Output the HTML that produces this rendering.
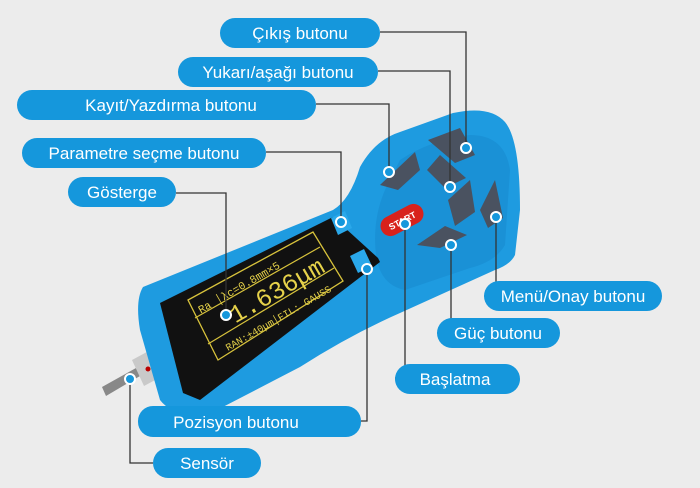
<!DOCTYPE html>
<html><head><meta charset="utf-8"><style>
html,body{margin:0;padding:0;background:#ececec;}
svg{display:block}
.l{font-family:"Liberation Sans",sans-serif;font-size:17px;fill:#fff;text-anchor:middle}
.p{fill:#1597dc}
.c{stroke:#333;stroke-width:1.3;fill:none}
.d{fill:#1597dc;stroke:#fff;stroke-width:2}
.s{font-family:"Liberation Mono",monospace;fill:#e6d24a}
.b{fill:#4a5260}
</style></head><body>
<svg width="700" height="488" viewBox="0 0 700 488" xmlns="http://www.w3.org/2000/svg">
<rect width="700" height="488" fill="#ececec"/>
<!-- sensor -->
<polygon points="102,387 136,368 140,376 106,396" fill="#888"/>
<polygon points="132,360 158,346 170,372 144,386" fill="#c9c9c9"/>
<circle cx="148" cy="369" r="2.5" fill="#b00"/>
<!-- body -->
<path d="M143,287 L333,210 Q350,200 360,167 Q375,140 400,132 L453,113 Q490,105 505,122 Q520,140 520,210 L515,255 Q510,265 495,270 L400,313 Q350,335 300,367 L217,410 Q175,420 160,400 L140,330 Q135,300 143,287 Z" fill="#1e9be0"/>
<path d="M400,160 Q430,140 470,135 Q505,135 510,170 L505,245 Q495,262 470,268 L405,290 Q380,285 376,255 Q372,220 385,190 Z" fill="#1a91d6"/>
<!-- screen -->
<polygon points="160,303 333,217 378,258 380,262 200,400 183,393" fill="#111"/>
<polygon points="188,300 313,232 343,281 218,360" fill="none" stroke="#d8c33c" stroke-width="1.3"/>
<line x1="195" y1="318" x2="320" y2="247" stroke="#d8c33c" stroke-width="1.2"/>
<line x1="208" y1="344" x2="334" y2="268" stroke="#d8c33c" stroke-width="1.2"/>
<g transform="rotate(-30 265 295)">
<text class="s" x="200" y="279" font-size="11">Ra │λc=0.8mm×5</text>
<text class="s" x="225" y="305" font-size="25">1.636μm</text>
<text class="s" x="205" y="325" font-size="10">RAN:±40μm│FIL: GAUSS</text>
</g>
<polygon points="331,218 345,211 352,228 338,235" fill="#2aa8ea"/>
<polygon points="350,256 364,249 372,266 358,273" fill="#2aa8ea"/>
<!-- buttons -->
<polygon class="b" points="380,185 415,152 420,170 398,190"/>
<polygon class="b" points="428,140 460,128 475,155 455,163"/>
<polygon class="b" points="427,170 440,155 466,178 445,188"/>
<polygon class="b" points="448,200 470,180 475,212 455,226"/>
<polygon class="b" points="480,210 495,180 503,218 488,228"/>
<polygon class="b" points="417,245 445,226 467,235 440,248"/>
<rect x="379" y="210" width="46" height="20" rx="10" fill="#d8221c" transform="rotate(-28 402 220)"/>
<text x="402" y="224" font-family="Liberation Sans,sans-serif" font-size="9" font-weight="bold" fill="#fff" text-anchor="middle" transform="rotate(-28 402 220)">START</text>
<!-- connectors -->
<path class="c" d="M380,32 H466 V148"/>
<path class="c" d="M378,71 H450 V187"/>
<path class="c" d="M316,104 H389 V172"/>
<path class="c" d="M266,152 H341 V222"/>
<path class="c" d="M176,193 H226 V315"/>
<path class="c" d="M496,217 V296 H484"/>
<path class="c" d="M451,245 V333 H437"/>
<path class="c" d="M405,224 V378 H395"/>
<path class="c" d="M367,269 V421 H361"/>
<path class="c" d="M130,379 V463 H153"/>
<!-- dots -->
<circle class="d" cx="466" cy="148" r="5"/><circle class="d" cx="450" cy="187" r="5"/>
<circle class="d" cx="389" cy="172" r="5"/><circle class="d" cx="341" cy="222" r="5"/>
<circle class="d" cx="226" cy="315" r="5"/><circle class="d" cx="496" cy="217" r="5"/>
<circle class="d" cx="451" cy="245" r="5"/><circle class="d" cx="405" cy="224" r="5"/>
<circle class="d" cx="367" cy="269" r="5"/><circle class="d" cx="130" cy="379" r="5"/>
<!-- labels -->
<rect class="p" x="220" y="18" width="160" height="30" rx="15"/><text class="l" x="300" y="39">Çıkış butonu</text>
<rect class="p" x="178" y="57" width="200" height="30" rx="15"/><text class="l" x="278" y="78">Yukarı/aşağı butonu</text>
<rect class="p" x="17" y="90" width="299" height="30" rx="15"/><text class="l" x="171" y="111">Kayıt/Yazdırma butonu</text>
<rect class="p" x="22" y="138" width="244" height="30" rx="15"/><text class="l" x="144" y="159">Parametre seçme butonu</text>
<rect class="p" x="68" y="177" width="108" height="30" rx="15"/><text class="l" x="122" y="198">Gösterge</text>
<rect class="p" x="484" y="281" width="178" height="30" rx="15"/><text class="l" x="573" y="302">Menü/Onay butonu</text>
<rect class="p" x="437" y="318" width="123" height="30" rx="15"/><text class="l" x="498" y="339">Güç butonu</text>
<rect class="p" x="395" y="364" width="125" height="30" rx="15"/><text class="l" x="455" y="385">Başlatma</text>
<rect class="p" x="138" y="406" width="223" height="31" rx="15"/><text class="l" x="236" y="428">Pozisyon butonu</text>
<rect class="p" x="153" y="448" width="108" height="30" rx="15"/><text class="l" x="207" y="469">Sensör</text>
</svg>
</body></html>
